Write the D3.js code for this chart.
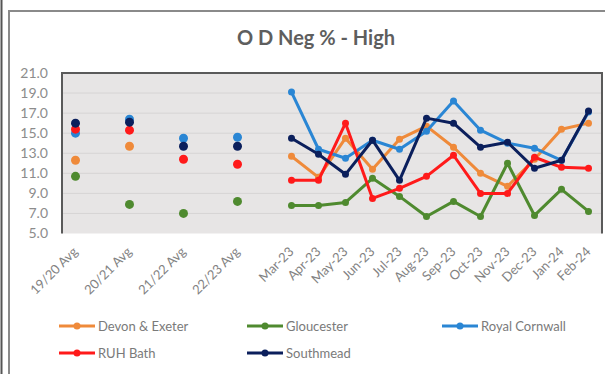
<!DOCTYPE html>
<html>
<head>
<meta charset="utf-8">
<script src="https://cdn.jsdelivr.net/npm/d3@7"></script>
<style>
  html, body { margin: 0; padding: 0; background: #ffffff; }
  svg { display: block; font-family: Lato, "Open Sans", sans-serif; }
</style>
</head>
<body>
<svg id="chart" width="605" height="374"></svg>
<script>
// Categories: four yearly averages followed by monthly values
const categories = ["19/20 Avg", "20/21 Avg", "21/22 Avg", "22/23 Avg",
  "Mar-23", "Apr-23", "May-23", "Jun-23", "Jul-23", "Aug-23",
  "Sep-23", "Oct-23", "Nov-23", "Dec-23", "Jan-24", "Feb-24"];

const yTicks = [5, 7, 9, 11, 13, 15, 17, 19, 21];

const seriesNames = ["Devon & Exeter", "Gloucester", "Royal Cornwall", "RUH Bath", "Southmead"];

const devonExeter   = [12.3, 13.7, null, null, 12.7, 10.6, 14.5, 11.4, 14.4, 15.7, 13.6, 11.0, 9.7, 12.4, 15.4, 16.0];
const gloucester    = [10.7, 7.9, 7.0, 8.2, 7.8, 7.8, 8.1, 10.5, 8.7, 6.7, 8.2, 6.7, 12.0, 6.8, 9.4, 7.2];
const royalCornwall = [15.0, 16.4, 14.5, 14.6, 19.1, 13.4, 12.5, 14.3, 13.4, 15.2, 18.2, 15.3, 14.0, 13.5, 12.3, 17.1];
const ruhBath       = [15.4, 15.3, 12.4, 11.9, 10.3, 10.3, 16.0, 8.5, 9.5, 10.7, 12.8, 9.0, 9.0, 12.6, 11.6, 11.5];
const southmead     = [16.0, 16.1, 13.7, 13.7, 14.5, 12.9, 10.9, 14.3, 10.3, 16.5, 16.0, 13.6, 14.1, 11.5, 12.3, 17.2];

const seriesColors = ["#ef8a3a", "#4f8a2f", "#2a86d4", "#ff1a1a", "#0b1f5c"];

const seriesValues = [devonExeter, gloucester, royalCornwall, ruhBath, southmead];

const svg = d3.select("#chart");

// Outer frame
svg.append("line").attr("x1", 1.5).attr("x2", 1.5).attr("y1", 0).attr("y2", 374)
  .attr("stroke", "#555").attr("stroke-width", 2);
svg.append("rect").attr("x", 9).attr("y", 11).attr("width", 620).attr("height", 400)
  .attr("fill", "#fff").attr("stroke", "#8a8a8a").attr("stroke-width", 2);

const plot = { left: 62, right: 602, top: 73, bottom: 233.5 };

// Each yearly average takes two slots so the months sit at half spacing
const slots = [];
categories.forEach(c => {
  slots.push(c);
  if (/Avg$/.test(c)) slots.push(c + "#gap");
});

const x = d3.scaleBand().domain(slots).range([plot.left, plot.right]);
const cx = c => x(c) + x.bandwidth() / 2;
const y = d3.scaleLinear().domain([5, 21]).range([plot.bottom, plot.top]);

// Plot background
svg.append("rect")
  .attr("x", plot.left).attr("y", plot.top)
  .attr("width", plot.right - plot.left).attr("height", plot.bottom - plot.top)
  .attr("fill", "#e7e5e5");

// Gridlines
svg.append("g")
  .selectAll("line").data(yTicks.slice(1, -1)).join("line")
  .attr("x1", plot.left).attr("x2", plot.right)
  .attr("y1", d => y(d)).attr("y2", d => y(d))
  .attr("stroke", "#d6d4d4").attr("stroke-width", 1);

// Plot border (top, left, right)
svg.append("path")
  .attr("d", `M${plot.left},${plot.bottom} V${plot.top} H${plot.right} V${plot.bottom}`)
  .attr("fill", "none").attr("stroke", "#5a5a5a").attr("stroke-width", 2);

// Y axis labels
const yAxis = d3.axisLeft(y).tickValues(yTicks).tickFormat(d3.format(".1f")).tickSize(0).tickPadding(0);
const yg = svg.append("g").attr("transform", `translate(48,0)`).call(yAxis);
yg.select(".domain").remove();
yg.selectAll("text").attr("fill", "#8c8c8c").attr("font-size", 14).attr("font-family", "Lato, sans-serif");

// X axis labels, rotated
const xg = svg.append("g");
xg.selectAll("text").data(categories).join("text")
  .attr("transform", d => `translate(${cx(d) + 3},${plot.bottom + 19}) rotate(-45)`)
  .attr("text-anchor", "end")
  .attr("font-size", 13)
  .attr("fill", "#828282")
  .text(d => d);

// Series: averages as markers, monthly values as lines with markers
const isMonth = c => !/Avg$/.test(c);
const line = d3.line()
  .defined(d => d.v != null)
  .x(d => cx(d.c)).y(d => y(d.v));

seriesValues.forEach((vals, i) => {
  const pts = categories.map((c, j) => ({ c, v: vals[j] }));
  const g = svg.append("g");
  g.append("path")
    .datum(pts.filter(p => isMonth(p.c)))
    .attr("d", line)
    .attr("fill", "none")
    .attr("stroke", seriesColors[i])
    .attr("stroke-width", 3)
    .attr("stroke-linejoin", "round");
  g.selectAll("circle").data(pts.filter(p => p.v != null)).join("circle")
    .attr("cx", p => cx(p.c)).attr("cy", p => y(p.v))
    .attr("r", p => isMonth(p.c) ? 3.5 : 4.5)
    .attr("fill", seriesColors[i]);
});

// Title
svg.append("text")
  .attr("x", 316).attr("y", 45)
  .attr("text-anchor", "middle")
  .attr("font-size", 20).attr("font-weight", "bold")
  .attr("fill", "#5e5e5e")
  .text("O D Neg % - High");

// Legend
const legendPos = [[59, 326], [247, 326], [442, 326], [59, 353], [247, 353]];
seriesNames.forEach((name, i) => {
  const [lx, ly] = legendPos[i];
  const g = svg.append("g").attr("transform", `translate(${lx},${ly})`);
  g.append("line").attr("x1", 0).attr("x2", 36).attr("y1", 0).attr("y2", 0)
    .attr("stroke", seriesColors[i]).attr("stroke-width", 3);
  g.append("circle").attr("cx", 18).attr("cy", 0).attr("r", 3.5).attr("fill", seriesColors[i]);
  g.append("text").attr("x", 39).attr("y", 5)
    .attr("font-size", 13).attr("fill", "#7a7a7a").text(name);
});
</script>
</body>
</html>
